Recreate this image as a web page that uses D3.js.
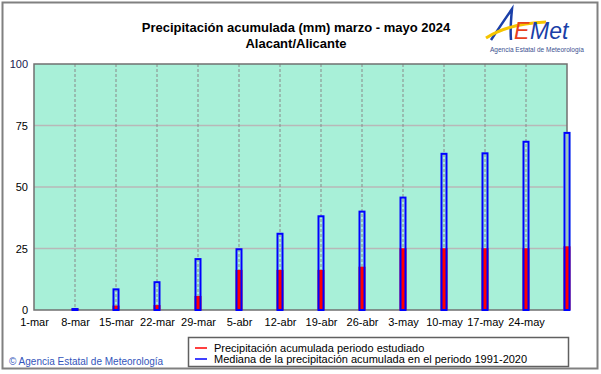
<!DOCTYPE html>
<html><head><meta charset="utf-8">
<script src="https://cdn.jsdelivr.net/npm/d3@7"></script>
<style>body{margin:0;background:#fff}svg{display:block}text{font-family:"Liberation Sans",Arial,sans-serif}</style>
</head><body>
<script>
const categories = ["1-mar","8-mar","15-mar","22-mar","29-mar","5-abr","12-abr","19-abr","26-abr","3-may","10-may","17-may","24-may","31-may"];
const tickLabels = ["1-mar","8-mar","15-mar","22-mar","29-mar","5-abr","12-abr","19-abr","26-abr","3-may","10-may","17-may","24-may",""];
const observed = [0, 0.6, 1.8, 2.0, 5.7, 16.3, 16.3, 16.3, 17.6, 25.1, 25.1, 25.1, 25.1, 25.9];
const median   = [0, 0.8, 8.8, 11.7, 21.1, 25.1, 31.4, 38.5, 40.4, 46.1, 63.9, 64.1, 68.8, 72.4];
const yTicks = [0, 25, 50, 75, 100];
const legendItems = ["Precipitación acumulada periodo estudiado","Mediana de la precipitación acumulada en el periodo 1991-2020"];
const legendColors = ["#ff0000","#0000ff"];

const W = 601, H = 374;
const bg = "#a8f0d8";
const svg = d3.select("body").append("svg").attr("width", W).attr("height", H);

// outer frame
svg.append("rect").attr("x",2.5).attr("y",2.5).attr("width",595).attr("height",366)
  .attr("fill","#fff").attr("stroke","#808080").attr("stroke-width",2);

const pLeft = 34, pRight = 567, pTop = 64, pBottom = 310;
const x = d3.scalePoint().domain(categories).range([pLeft, pRight]);
const y = d3.scaleLinear().domain([0,100]).range([pBottom, pTop]);

// plot background
svg.append("rect").attr("x",pLeft).attr("y",pTop).attr("width",pRight-pLeft).attr("height",pBottom-pTop)
  .attr("fill",bg);

// horizontal grid
svg.append("g").selectAll("line").data(yTicks.filter(d=>d>0 && d<100)).join("line")
  .attr("x1",pLeft).attr("x2",pRight).attr("y1",d=>y(d)).attr("y2",d=>y(d))
  .attr("stroke","#b8b8b8").attr("stroke-width",1.5);

// vertical dashed grid
svg.append("g").selectAll("line").data(categories.slice(1,-1)).join("line")
  .attr("x1",d=>x(d)).attr("x2",d=>x(d)).attr("y1",pTop).attr("y2",pBottom)
  .attr("stroke","#888").attr("stroke-width",1).attr("stroke-dasharray","3,2");

// plot border
svg.append("rect").attr("x",pLeft).attr("y",pTop).attr("width",pRight-pLeft).attr("height",pBottom-pTop)
  .attr("fill","none").attr("stroke","#707070").attr("stroke-width",1.5);

// bars
const bw = 7;
const bars = svg.append("g");
categories.forEach((c,i)=>{
  if (median[i] <= 0) return;
  const cx = x(c);
  if (i === categories.length - 1) {
    bars.append("rect").attr("x",cx-bw/2).attr("width",bw)
      .attr("y",y(median[i])).attr("height",y(0)-y(median[i])).attr("fill",bg);
    bars.append("line").attr("x1",cx).attr("x2",cx).attr("y1",y(median[i])).attr("y2",y(0))
      .attr("stroke","#999").attr("stroke-width",1);
  }
  bars.append("rect").attr("x",cx-bw/2).attr("width",bw)
    .attr("y",y(observed[i])).attr("height",y(0)-y(observed[i])).attr("fill","#ff0000");
  bars.append("rect").attr("x",cx-bw/2+1).attr("width",bw-2)
    .attr("y",y(median[i])+1).attr("height",Math.max(0,y(0)-y(median[i])-1))
    .attr("fill","none").attr("stroke","#0000ff").attr("stroke-width",2);
});

// y axis labels
const yAxis = d3.axisLeft(y).tickValues(yTicks).tickSize(0).tickPadding(6);
const gy = svg.append("g").attr("transform",`translate(${pLeft},0)`).call(yAxis);
gy.select(".domain").remove();
gy.selectAll("text").attr("font-size","11px").attr("fill",d=>d===100?"#202050":"#000")
  .style("font-family","'Liberation Sans',Arial,sans-serif");

// x axis labels
const xAxis = d3.axisBottom(x).tickFormat((d,i)=>tickLabels[i]).tickSize(0).tickPadding(8);
const gx = svg.append("g").attr("transform",`translate(0,${pBottom})`).call(xAxis);
gx.select(".domain").remove();
gx.selectAll("text").attr("font-size","11px").attr("fill","#000")
  .style("font-family","'Liberation Sans',Arial,sans-serif");

// title
svg.append("text").attr("x",296).attr("y",32).attr("text-anchor","middle")
  .attr("font-size","13px").attr("font-weight","bold")
  .text("Precipitación acumulada (mm) marzo - mayo 2024");
svg.append("text").attr("x",296).attr("y",47.5).attr("text-anchor","middle")
  .attr("font-size","13px").attr("font-weight","bold").text("Alacant/Alicante");

// legend
const lg = svg.append("g");
lg.append("rect").attr("x",188.5).attr("y",337.5).attr("width",380).attr("height",29)
  .attr("fill","#fff").attr("stroke","#606060").attr("stroke-width",1.5);
legendItems.forEach((t,i)=>{
  const ly = 348 + i*11;
  lg.append("line").attr("x1",195).attr("x2",207).attr("y1",ly).attr("y2",ly)
    .attr("stroke",legendColors[i]).attr("stroke-width",1.5);
  lg.append("text").attr("x",214).attr("y",ly+4).attr("font-size","11px").text(t);
});

// copyright
svg.append("text").attr("x",9).attr("y",365).attr("font-size","10px").attr("fill","#3355bb")
  .text("© Agencia Estatal de Meteorología");

// logo
const logo = svg.append("g");
logo.append("path").attr("d","M491,40 C497,31 505,19 512,9 C511,19 510,30 511,40")
  .attr("fill","none").attr("stroke","#1a3fa8").attr("stroke-width",2.5);
logo.append("path").attr("d","M486,38 C500,29 520,23 546,22")
  .attr("fill","none").attr("stroke","#f5c400").attr("stroke-width",3);
logo.append("text").attr("x",514).attr("y",39).attr("font-size","23px").attr("fill","#e8401c")
  .attr("font-style","italic").text("E");
logo.append("text").attr("x",530).attr("y",39).attr("font-size","23px").attr("fill","#1a3fa8")
  .attr("font-style","italic").text("Met");
logo.append("text").attr("x",537).attr("y",52).attr("text-anchor","middle").attr("font-size","6.5px")
  .attr("fill","#3a4f8f").text("Agencia Estatal de Meteorología");
</script>
</body></html>
